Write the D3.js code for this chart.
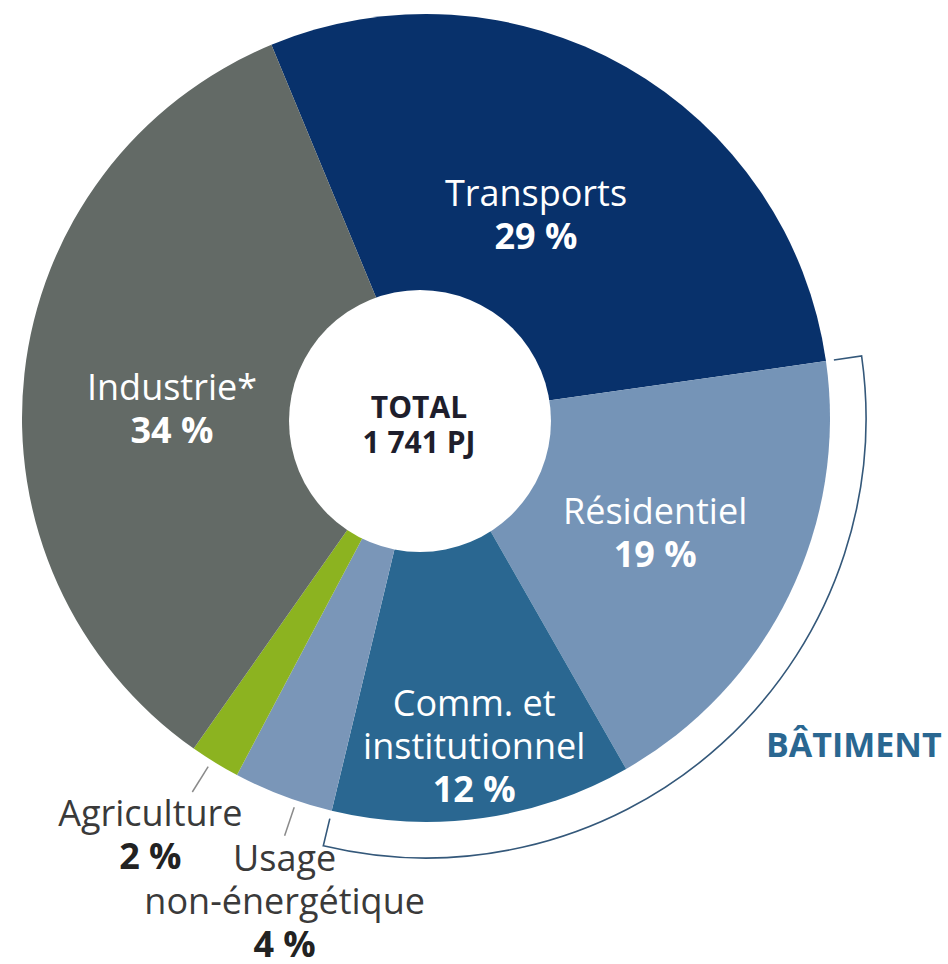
<!DOCTYPE html>
<html lang="fr">
<head>
<meta charset="UTF-8">
<title>Consommation d'énergie par secteur</title>
<script src="https://d3js.org/d3.v7.min.js"></script>
<style>
    html, body { margin: 0; padding: 0; background: #fff; }
    svg text { font-family: "Open Sans", "Noto Sans", sans-serif; }
</style>
</head>
<body>
<svg width="948" height="964"></svg>
<script>
    // données (parts en %)
    const sectors = ["Transports", "Résidentiel", "Comm. et institutionnel", "Usage non-énergétique", "Agriculture", "Industrie*"]
    const shares = [29, 19, 12, 4, 2, 34]
    const labelLines = [["Transports"], ["Résidentiel"], ["Comm. et", "institutionnel"], ["Usage", "non-énergétique"], ["Agriculture"], ["Industrie*"]]
    const colors = ["#08316b", "#7594b7", "#2a6791", "#7a96b8", "#8cb320", "#636a66"]
    const totalLines = ["TOTAL", "1 741 PJ"]
    const groupLabel = "BÂTIMENT"
    const groupMembers = ["Résidentiel", "Comm. et institutionnel"]

    // mise en page
    const cx = 426, cy = 418, R = 404
    const holeR = 131, holeDx = -6, holeDy = 3
    const startDeg = -22.5
    const fontSize = 36
    const lineH = 43
    // étiquettes : rayon et décalage d'angle (degrés), ou étiquette extérieure
    const labelLayout = {
        "Transports": {r: 222, da: 0},
        "Résidentiel": {r: 261, da: 2.5},
        "Comm. et institutionnel": {r: 342, da: 0},
        "Industrie*": {r: 254, da: -6.5},
        "Usage non-énergétique": {outside: true, da: -2, dx: 0, dy: 35},
        "Agriculture": {outside: true, da: 0.5, dx: -42, dy: 34}
    }

    const svg = d3.select('svg')
    const g = svg.append('g').attr('transform', 'translate(' + cx + ',' + cy + ')')

    const data = sectors.map((s, i) => ({name: s, value: shares[i], color: colors[i], lines: labelLines[i]}))
    const rad = d => d * Math.PI / 180
    const pie = d3.pie().sort(null).value(d => d.value)
        .startAngle(rad(startDeg)).endAngle(rad(startDeg) + 2 * Math.PI)
    const arcs = pie(data)
    const arc = d3.arc().innerRadius(0).outerRadius(R)

    g.selectAll('path.slice')
        .data(arcs)
        .enter()
        .append('path')
        .attr('class', 'slice')
        .attr('d', arc)
        .attr('fill', d => d.data.color)

    // trou central
    g.append('circle')
        .attr('cx', holeDx).attr('cy', holeDy)
        .attr('r', holeR)
        .attr('fill', '#fff')

    const total = g.append('text')
        .attr('text-anchor', 'middle')
        .attr('font-weight', 700)
        .attr('font-size', 30)
        .attr('fill', '#1e1e2c')
    totalLines.forEach((t, i) => {
        total.append('tspan').attr('x', -7).attr('y', i * 35).text(t)
    })

    const polar = (a, r) => [r * Math.sin(a), -r * Math.cos(a)]

    // étiquettes
    arcs.forEach(d => {
        const lay = labelLayout[d.data.name]
        const mid = (d.startAngle + d.endAngle) / 2 + rad(lay.da)
        const n = d.data.lines.length
        if (!lay.outside) {
            const [x, y] = polar(mid, lay.r)
            const t = g.append('text')
                .attr('text-anchor', 'middle')
                .attr('fill', '#fff')
                .attr('font-size', fontSize)
            const y0 = y - (n + 1) * lineH / 2 + 24
            d.data.lines.forEach((l, i) => {
                t.append('tspan').attr('x', x).attr('y', y0 + i * lineH).text(l)
            })
            t.append('tspan').attr('x', x).attr('y', y0 + n * lineH)
                .attr('font-weight', 700).text(d.data.value + ' %')
        } else {
            const [x1, y1] = polar(mid, R + 7)
            const [x2, y2] = polar(mid, R + 37)
            g.append('line')
                .attr('x1', x1).attr('y1', y1).attr('x2', x2).attr('y2', y2)
                .attr('stroke', '#8a8a8a').attr('stroke-width', 1.5)
            const t = g.append('text')
                .attr('text-anchor', 'middle')
                .attr('fill', '#3a3a3a')
                .attr('font-size', fontSize)
            d.data.lines.forEach((l, i) => {
                t.append('tspan').attr('x', x2 + lay.dx).attr('y', y2 + lay.dy + i * lineH).text(l)
            })
            t.append('tspan').attr('x', x2 + lay.dx).attr('y', y2 + lay.dy + n * lineH)
                .attr('font-weight', 700).attr('fill', '#222').text(d.data.value + ' %')
        }
    })

    // accolade BÂTIMENT
    const members = arcs.filter(d => groupMembers.includes(d.data.name))
    const a0 = d3.min(members, d => d.startAngle)
    const a1 = d3.max(members, d => d.endAngle)
    const bR = 440, tick = 28
    const bracket = d3.path()
    let p = polar(a0, bR - tick)
    bracket.moveTo(p[0], p[1])
    p = polar(a0, bR)
    bracket.lineTo(p[0], p[1])
    bracket.arc(0, 0, bR, a0 - Math.PI / 2, a1 - Math.PI / 2)
    p = polar(a1, bR - tick)
    bracket.lineTo(p[0], p[1])
    g.append('path')
        .attr('d', bracket.toString())
        .attr('fill', 'none')
        .attr('stroke', '#34587a')
        .attr('stroke-width', 1.6)

    svg.append('text')
        .attr('x', 766).attr('y', 757)
        .attr('font-size', 34)
        .attr('font-weight', 700)
        .attr('fill', '#2a6791')
        .text(groupLabel)
</script>
</body>
</html>
